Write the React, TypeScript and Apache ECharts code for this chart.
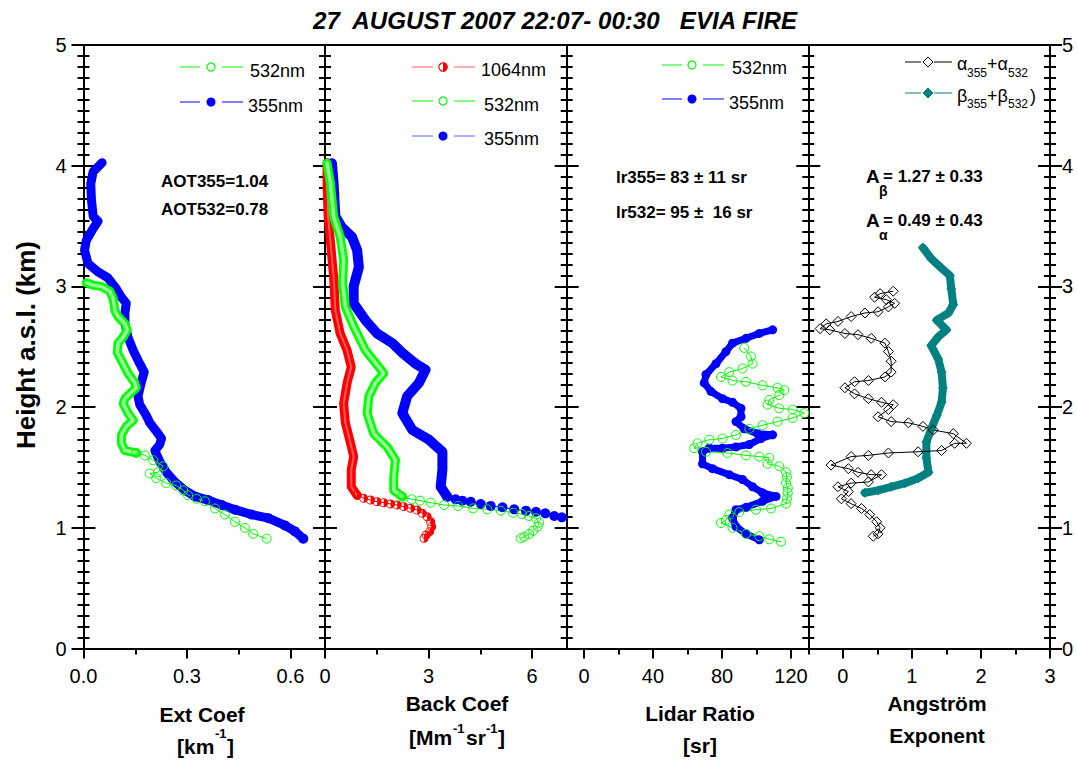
import React, { useEffect, useRef } from "react";
import * as echarts from "echarts";

const FONT = "'Liberation Sans', Arial, Helvetica, sans-serif";

// ---------- data (x value, height km) ----------
// Panel 1: extinction coefficient [km-1]
const ext355: [number, number][] = [
  [0.054, 4.025], [0.028, 3.95], [0.021, 3.85], [0.023, 3.72], [0.028, 3.58], [0.042, 3.54], [0.028, 3.48],
  [0.008, 3.38], [0.003, 3.3], [0.013, 3.19], [0.042, 3.12], [0.071, 3.07], [0.095, 2.98], [0.11, 2.91],
  [0.124, 2.86], [0.12, 2.78], [0.12, 2.69], [0.129, 2.58], [0.144, 2.47], [0.163, 2.36], [0.176, 2.29],
  [0.168, 2.21], [0.158, 2.09], [0.163, 2.02], [0.182, 1.93], [0.192, 1.87], [0.211, 1.8], [0.226, 1.74],
  [0.221, 1.69], [0.207, 1.64], [0.221, 1.55], [0.24, 1.46], [0.265, 1.38], [0.294, 1.31], [0.323, 1.26],
  [0.361, 1.23], [0.4, 1.19], [0.439, 1.15], [0.487, 1.11], [0.536, 1.08], [0.584, 1.02], [0.613, 0.97],
  [0.637, 0.91],
];
const ext532: [number, number][] = [
  [0.008, 3.03], [0.028, 3.01], [0.052, 3.0], [0.076, 2.96], [0.086, 2.9], [0.091, 2.8], [0.1, 2.75],
  [0.12, 2.69], [0.127, 2.64], [0.115, 2.58], [0.1, 2.53], [0.098, 2.45], [0.115, 2.36], [0.129, 2.28],
  [0.149, 2.2], [0.153, 2.16], [0.134, 2.11], [0.12, 2.07], [0.115, 2.03], [0.129, 1.95], [0.144, 1.89],
  [0.124, 1.84], [0.11, 1.77], [0.11, 1.7], [0.12, 1.64], [0.153, 1.62], [0.178, 1.6], [0.202, 1.56],
  [0.231, 1.51], [0.216, 1.46], [0.192, 1.45], [0.211, 1.41], [0.24, 1.37], [0.269, 1.35], [0.289, 1.31],
  [0.303, 1.27], [0.328, 1.24], [0.352, 1.22], [0.381, 1.16], [0.41, 1.11], [0.439, 1.05], [0.468, 1.0],
  [0.492, 0.95], [0.531, 0.91],
];

// Panel 2: backscatter coefficient [Mm-1 sr-1]
const back1064: [number, number][] = [
  [0.06, 4.025], [0.06, 3.85], [0.09, 3.58], [0.16, 3.36], [0.25, 3.08], [0.3, 2.8], [0.44, 2.61], [0.64, 2.47],
  [0.76, 2.33], [0.64, 2.2], [0.54, 2.03], [0.59, 1.87], [0.74, 1.7], [0.83, 1.59], [0.76, 1.48], [0.76, 1.34],
  [0.93, 1.27], [1.12, 1.244], [1.32, 1.23], [1.51, 1.216], [1.7, 1.208], [1.9, 1.197], [2.09, 1.189],
  [2.28, 1.175], [2.48, 1.161], [2.67, 1.147], [2.82, 1.12], [2.96, 1.092], [3.06, 1.051], [3.09, 1.009],
  [3.03, 0.968], [2.93, 0.94], [2.87, 0.913],
];
const back532: [number, number][] = [
  [0.06, 4.02], [0.16, 3.85], [0.25, 3.58], [0.44, 3.41], [0.54, 3.22], [0.51, 3.03], [0.59, 2.83], [0.83, 2.67],
  [1.17, 2.47], [1.51, 2.35], [1.7, 2.28], [1.46, 2.2], [1.27, 2.09], [1.22, 1.95], [1.41, 1.78], [1.8, 1.67],
  [2.04, 1.56], [1.99, 1.42], [1.99, 1.31], [2.24, 1.258], [2.51, 1.236], [2.75, 1.225], [3.06, 1.208],
  [3.45, 1.189], [3.86, 1.181], [4.29, 1.161], [4.7, 1.153], [5.09, 1.142], [5.45, 1.125], [5.7, 1.114],
  [5.91, 1.098], [6.11, 1.079], [6.2, 1.042], [6.16, 1.009], [6.03, 0.976], [5.91, 0.949], [5.77, 0.926],
  [5.67, 0.913],
];
const back355: [number, number][] = [
  [0.2, 4.02], [0.25, 3.85], [0.3, 3.58], [0.49, 3.49], [0.78, 3.41], [0.93, 3.3], [0.98, 3.16], [0.83, 3.0],
  [0.83, 2.86], [1.17, 2.72], [1.51, 2.61], [1.95, 2.53], [2.24, 2.45], [2.62, 2.36], [2.91, 2.31], [2.72, 2.2],
  [2.38, 2.09], [2.24, 1.95], [2.53, 1.81], [3.01, 1.73], [3.4, 1.63], [3.4, 1.48], [3.35, 1.34], [3.54, 1.258],
  [3.78, 1.236], [3.98, 1.225], [4.22, 1.216], [4.51, 1.197], [4.8, 1.181], [5.14, 1.17], [5.48, 1.153],
  [5.82, 1.142], [6.11, 1.133], [6.38, 1.12], [6.64, 1.098], [6.86, 1.087], [7.08, 1.07],
];

// Panel 3: lidar ratio [sr]
const lr355: [number, number][] = [
  [109.3, 2.64], [101.6, 2.61], [93.9, 2.57], [86.1, 2.53], [82.3, 2.46], [76.5, 2.36], [70.7, 2.27],
  [69.7, 2.2], [73.6, 2.13], [80.3, 2.07], [86.1, 2.04], [91.0, 1.99], [91.0, 1.92], [88.1, 1.88],
  [92.9, 1.82], [100.6, 1.78], [109.3, 1.77], [102.6, 1.74], [95.8, 1.69], [88.1, 1.67], [80.3, 1.66],
  [72.6, 1.66], [68.7, 1.63], [68.7, 1.53], [74.5, 1.49], [84.2, 1.44], [91.9, 1.4], [97.7, 1.34],
  [103.5, 1.29], [111.3, 1.26], [103.5, 1.22], [93.9, 1.17], [88.1, 1.15], [86.1, 1.08], [88.1, 1.01],
  [93.9, 0.95], [101.6, 0.9],
];
const lr532: [number, number][] = [
  [92.9, 2.49], [96.8, 2.42], [97.7, 2.36], [91.9, 2.32], [84.2, 2.29], [79.4, 2.25], [86.1, 2.22],
  [93.9, 2.21], [103.5, 2.18], [112.2, 2.16], [116.1, 2.14], [113.2, 2.1], [107.4, 2.06], [106.4, 2.02],
  [113.2, 1.99], [120.9, 1.98], [127.7, 1.95], [120.9, 1.91], [112.2, 1.88], [103.5, 1.85], [95.8, 1.82],
  [88.1, 1.77], [80.3, 1.74], [72.6, 1.73], [65.8, 1.7], [63.9, 1.66], [70.7, 1.63], [83.2, 1.62],
  [93.9, 1.6], [101.6, 1.59], [107.4, 1.58], [106.4, 1.53], [113.2, 1.51], [117.1, 1.46], [117.6, 1.42],
  [117.1, 1.37], [118.1, 1.33], [118.1, 1.29], [117.6, 1.24], [117.1, 1.2], [108.4, 1.16], [99.7, 1.15],
  [90.0, 1.13], [84.2, 1.11], [82.3, 1.065], [79.4, 1.04], [86.1, 1.0], [93.9, 0.95], [101.6, 0.93],
  [107.4, 0.905], [114.2, 0.885],
];

// Panel 4: Angstrom exponent
const angAlpha: [number, number][] = [
  [0.73, 2.96], [0.54, 2.94], [0.46, 2.91], [0.63, 2.89], [0.75, 2.86], [0.66, 2.83], [0.51, 2.79],
  [0.32, 2.78], [0.12, 2.75], [-0.07, 2.71], [-0.24, 2.69], [-0.33, 2.65], [-0.19, 2.64], [0.03, 2.61],
  [0.22, 2.6], [0.41, 2.57], [0.61, 2.53], [0.66, 2.46], [0.7, 2.38], [0.7, 2.29], [0.61, 2.25], [0.37, 2.22],
  [0.17, 2.21], [0.03, 2.16], [0.17, 2.11], [0.37, 2.07], [0.56, 2.04], [0.73, 2.02], [0.66, 1.98],
  [0.51, 1.92], [0.7, 1.88], [0.95, 1.87], [1.16, 1.84], [1.31, 1.81], [1.6, 1.78], [1.79, 1.7], [1.62, 1.7],
  [1.43, 1.64], [1.09, 1.63], [0.66, 1.62], [0.37, 1.6], [0.12, 1.59], [-0.17, 1.52], [0.08, 1.49],
  [0.22, 1.46], [0.41, 1.44], [0.56, 1.44], [0.37, 1.38], [0.12, 1.37], [-0.07, 1.34], [0.08, 1.3],
  [-0.02, 1.24], [0.12, 1.2], [0.27, 1.16], [0.39, 1.11], [0.49, 1.05], [0.54, 1.0], [0.51, 0.95],
  [0.44, 0.93],
];
const angBeta: [number, number][] = [
  [1.16, 3.32], [1.28, 3.23], [1.43, 3.15], [1.55, 3.09], [1.57, 2.98], [1.6, 2.85], [1.53, 2.78],
  [1.36, 2.72], [1.5, 2.64], [1.38, 2.58], [1.28, 2.51], [1.38, 2.4], [1.43, 2.29], [1.45, 2.16],
  [1.43, 2.04], [1.36, 1.93], [1.28, 1.82], [1.21, 1.71], [1.21, 1.58], [1.24, 1.46], [1.09, 1.41],
  [0.9, 1.37], [0.7, 1.34], [0.51, 1.31], [0.32, 1.29],
];

// ---------- axes ----------
const xMin = [0, 0, -10, -0.5];
const xMax = [0.7, 7, 130, 3];
const xMajor = [[0, 0.3, 0.6], [0, 3, 6], [0, 40, 80, 120], [0, 1, 2, 3]];
const xMinor = [[0.15, 0.45], [1.5, 4.5], [20, 60, 100], [-0.5, 0.5, 1.5, 2.5]];
const xDigits = [1, 0, 0, 0];
const yTicks = [0, 1, 2, 3, 4, 5];

const GREEN = "#00ff00";
const BLUE = "#0000ff";
const RED = "#ff0000";
const TEAL = "#008080";

const HALF = "path://M0,-10A10,10,0,1,1,0,10A10,10,0,1,1,0,-10ZM0,-8A8,8,0,1,0,0,8A8,8,0,1,0,0,-8ZM0,-8A8,8,0,0,1,0,8Z";

function buildOption() {
  const lefts = [83.5, 325, 566.7, 808.3];
  const rights = [325, 566.7, 808.3, 1050];
  const top = 45;
  const height = 603.5;
  const grid = lefts.map((l, i) => ({ left: l, top, width: rights[i] - l, height, containLabel: false, outerBoundsMode: "none" }));
  const line2 = { show: true, onZero: false, lineStyle: { color: "#000", width: 2 } };
  const xAxis: any[] = [];
  for (let g = 0; g < 4; g++) {
    xAxis.push({
      type: "value", gridIndex: g, position: "bottom", min: xMin[g], max: xMax[g],
      axisLine: line2,
      axisTick: { show: true, inside: false, length: 10, customValues: xMajor[g], lineStyle: { color: "#000", width: 2 } },
      axisLabel: {
        show: true, customValues: xMajor[g], margin: 17, fontSize: 20, color: "#000", fontFamily: FONT,
        formatter: (v: number) => v.toFixed(xDigits[g]),
      },
      splitLine: { show: false },
    });
    xAxis.push({
      type: "value", gridIndex: g, position: "bottom", min: xMin[g], max: xMax[g],
      axisLine: { show: false, onZero: false },
      axisTick: { show: true, inside: false, length: 6, customValues: xMinor[g], lineStyle: { color: "#000", width: 2 } },
      axisLabel: { show: false },
      splitLine: { show: false },
    });
    xAxis.push({
      type: "value", gridIndex: g, position: "top", min: xMin[g], max: xMax[g],
      axisLine: line2, axisTick: { show: false }, axisLabel: { show: false }, splitLine: { show: false },
    });
  }
  const yBase = (g: number, pos: string, inside: boolean, labels: boolean, margin = 16) => ({
    type: "value", gridIndex: g, position: pos, min: 0, max: 5, interval: 1,
    axisLine: line2,
    axisTick: { show: true, inside, length: 12, lineStyle: { color: "#000", width: 2 } },
    minorTick: { show: true, splitNumber: 11, length: 6, lineStyle: { color: "#000", width: 2 } },
    axisLabel: { show: labels, margin, fontSize: 20, color: "#000", fontFamily: FONT, customValues: yTicks },
    splitLine: { show: false },
  });
  const yAxis: any[] = [];
  for (let g = 0; g < 4; g++) {
    yAxis.push(yBase(g, "left", true, false));
    yAxis.push(yBase(g, "right", true, false));
  }
  yAxis.push(yBase(0, "left", false, true, 17));
  yAxis.push(yBase(3, "right", false, true, 12));

  const band = (g: number, data: any[], color: string, width: number, opacity = 1) => ({
    type: "line", xAxisIndex: 3 * g, yAxisIndex: 2 * g, data, symbol: "none", silent: true,
    lineStyle: { color, width, opacity, cap: "round", join: "round" }, animation: false,
  });
  const marks = (g: number, data: any[], symbol: string, size: number, fill: string, stroke: string, lw = 1) => ({
    type: "line", xAxisIndex: 3 * g, yAxisIndex: 2 * g, data, symbol, symbolSize: size, showSymbol: true,
    showAllSymbol: true, silent: true,
    itemStyle: { color: fill, borderColor: stroke, borderWidth: fill === stroke ? 0 : 1 },
    lineStyle: { color: stroke, width: lw }, animation: false,
  });
  const CLEAR = "rgba(255,255,255,0)";
  const ge = (a: [number, number][], h: number) => a.filter((p) => p[1] >= h);
  const le = (a: [number, number][], h: number) => a.filter((p) => p[1] <= h);

  const series: any[] = [
    // panel 1
    band(0, ext355, BLUE, 9),
    marks(0, le(ext355, 1.26), "circle", 10, BLUE, BLUE),
    band(0, ge(ext532, 1.62), GREEN, 9),
    band(0, ge(ext532, 1.62), "#ffffff", 3.5, 0.6),
    marks(0, le(ext532, 1.62), "circle", 9, CLEAR, GREEN),
    // panel 2
    band(1, ge(back1064, 1.27), RED, 9),
    band(1, ge(back1064, 1.27), "#ffffff", 2, 0.35),
    marks(1, le(back1064, 1.27), HALF, 9, RED, RED),
    band(1, ge(back355, 1.258), BLUE, 10),
    marks(1, le(back355, 1.258), "circle", 10, BLUE, BLUE),
    band(1, ge(back532, 1.258), GREEN, 9),
    band(1, ge(back532, 1.258), "#ffffff", 3.5, 0.6),
    marks(1, le(back532, 1.258), "circle", 9, CLEAR, GREEN),
    // panel 3
    band(2, lr355, BLUE, 7),
    marks(2, lr355, "circle", 9, BLUE, BLUE),
    marks(2, lr532, "circle", 9, CLEAR, GREEN),
    // panel 4
    band(3, angBeta, TEAL, 8),
    marks(3, angBeta, "diamond", 10, TEAL, TEAL),
    marks(3, angAlpha, "diamond", 10, CLEAR, "#000"),
  ];

  const t = (x: number, y: number, text: string, size: number, opt: any = {}) => ({
    type: "text", x, y, rotation: opt.rotation || 0, scaleX: opt.scaleX || 1, silent: true,
    style: {
      text, fill: "#000", fontSize: size, fontFamily: FONT, fontWeight: opt.weight || "normal",
      fontStyle: opt.style || "normal",
      align: opt.align || "left", verticalAlign: "middle",
      textAlign: opt.align || "left", textVerticalAlign: "middle",
    },
  });
  const seg = (x1: number, x2: number, y: number, color: string) => ({
    type: "line", shape: { x1, y1: y, x2, y2: y }, style: { stroke: color, lineWidth: 1 }, silent: true,
  });
  const openC = (cx: number, cy: number, c: string) => ({ type: "circle", shape: { cx, cy, r: 4 }, style: { fill: "#fff", stroke: c, lineWidth: 1.2 } });
  const fillC = (cx: number, cy: number, c: string) => ({ type: "circle", shape: { cx, cy, r: 4.5 }, style: { fill: c } });
  const halfC = (cx: number, cy: number) => ({
    type: "group", children: [
      { type: "circle", shape: { cx, cy, r: 4.2 }, style: { fill: "#fff", stroke: RED, lineWidth: 1.2 } },
      { type: "sector", shape: { cx, cy, r: 4.5, r0: 0, startAngle: -Math.PI / 2, endAngle: Math.PI / 2 }, style: { fill: RED } },
    ],
  });
  const dia = (cx: number, cy: number, fill: string, stroke: string) => ({
    type: "polygon", shape: { points: [[cx, cy - 5], [cx + 5, cy], [cx, cy + 5], [cx - 5, cy]] },
    style: { fill, stroke, lineWidth: 1 },
  });
  const B = { weight: "bold" };

  const graphic: any[] = [
    t(555, 21, "27\u00a0 AUGUST 2007 22:07- 00:30\u00a0\u00a0 EVIA FIRE", 23, { weight: "bold", style: "italic", align: "center", scaleX: 1.05 }),
    t(26, 345, "Height a.s.l. (km)", 26, { weight: "bold", align: "center", rotation: Math.PI / 2 }),
    // axis titles
    t(202, 714, "Ext Coef", 21, { ...B, align: "center" }),
    t(177, 746, "[km", 21, B), t(215, 733, "-1", 13, B), t(227, 746, "]", 21, B),
    t(457, 703, "Back Coef", 21, { ...B, align: "center" }),
    t(409, 737, "[Mm", 21, B), t(453, 728, "-1", 13, B), t(466, 737, "sr", 21, B), t(486, 728, "-1", 13, B), t(498, 737, "]", 21, B),
    t(700, 713, "Lidar Ratio", 21, { ...B, align: "center" }),
    t(700, 745, "[sr]", 21, { ...B, align: "center" }),
    t(937, 703, "Angstr\u00f6m", 21, { ...B, align: "center" }),
    t(937, 735, "Exponent", 21, { ...B, align: "center" }),
    // panel 1 legend + annotations
    seg(180, 200, 67, GREEN), openC(211, 67, GREEN), seg(222, 243, 67, GREEN), t(250, 71, "532nm", 18),
    seg(180, 200, 102, BLUE), fillC(211, 102, BLUE), seg(222, 243, 102, BLUE), t(248, 106, "355nm", 18),
    t(161, 181, "AOT355=1.04", 17, B),
    t(161, 209, "AOT532=0.78", 17, B),
    // panel 2 legend
    seg(412, 433, 67, "#ff6060"), halfC(443, 67), seg(454, 475, 67, "#ff6060"), t(481, 70, "1064nm", 18),
    seg(412, 433, 101, GREEN), openC(443, 101, GREEN), seg(454, 475, 101, GREEN), t(484, 105, "532nm", 18),
    seg(412, 433, 136, "#6060ff"), fillC(443, 136, BLUE), seg(454, 475, 136, "#6060ff"), t(484, 139, "355nm", 18),
    // panel 3 legend + annotations
    seg(662, 682, 65, GREEN), openC(692, 65, GREEN), seg(703, 724, 65, GREEN), t(732, 68, "532nm", 18),
    seg(662, 682, 99, BLUE), fillC(692, 99, BLUE), seg(703, 724, 99, BLUE), t(729, 103, "355nm", 18),
    t(616, 177, "lr355= 83 \u00b1 11 sr", 17, B),
    t(616, 212, "lr532= 95 \u00b1\u00a0 16 sr", 17, B),
    // panel 4 legend
    seg(905, 921, 62, "#000"), dia(928, 62, "#fff", "#000"), seg(934, 952, 62, "#000"),
    t(957, 64, "\u03b1", 18), t(967, 73, "355", 12), t(987, 64, "+\u03b1", 18), t(1008, 73, "532", 12),
    seg(905, 921, 93, TEAL), dia(928, 93, TEAL, TEAL), seg(934, 952, 93, TEAL),
    t(957, 96, "\u03b2", 18), t(967, 104, "355", 12), t(987, 96, "+\u03b2", 18), t(1008, 104, "532", 12), t(1030, 96, ")", 18),
    // panel 4 annotations
    t(866, 176, "A", 19, B), t(879, 191, "\u03b2", 14, B), t(883, 176, "= 1.27 \u00b1 0.33", 17, B),
    t(866, 220, "A", 19, B), t(879, 235, "\u03b1", 14, B), t(883, 220, "= 0.49 \u00b1 0.43", 17, B),
  ];

  return {
    animation: false,
    backgroundColor: "#ffffff",
    textStyle: { fontFamily: FONT },
    grid, xAxis, yAxis, series, graphic,
  };
}

export default function App() {
  const ref = useRef<HTMLDivElement>(null);
  useEffect(() => {
    if (!ref.current) return;
    const chart = echarts.init(ref.current, undefined, { renderer: "svg" });
    chart.setOption(buildOption() as any);
    return () => chart.dispose();
  }, []);
  return (
    <div
      ref={ref}
      style={{ position: "fixed", left: 0, top: 0, width: 1077, height: 760, background: "#fff" }}
    />
  );
}
